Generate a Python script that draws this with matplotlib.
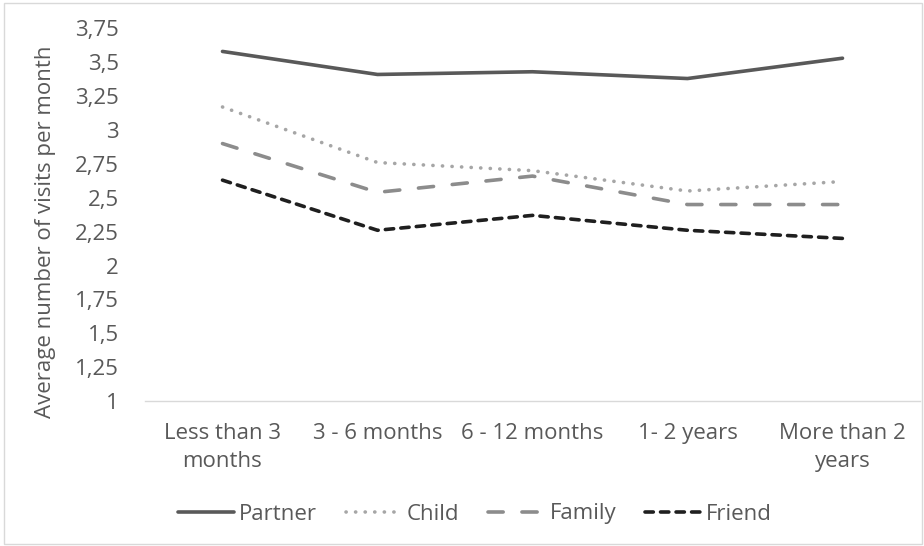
import matplotlib
matplotlib.use("Agg")
import matplotlib.pyplot as plt
from matplotlib.patches import Rectangle

# %%
# Data
categories = ["Less than 3\nmonths", "3 - 6 months", "6 - 12 months", "1- 2 years", "More than 2\nyears"]
partner = [3.58, 3.41, 3.43, 3.38, 3.53]
child = [3.17, 2.76, 2.70, 2.55, 2.62]
family = [2.90, 2.54, 2.66, 2.45, 2.45]
friend = [2.63, 2.26, 2.37, 2.26, 2.20]
yticks = [1, 1.25, 1.5, 1.75, 2, 2.25, 2.5, 2.75, 3, 3.25, 3.5, 3.75]

plt.rcParams["font.family"] = ["Open Sans", "DejaVu Sans"]
text_color = "#595959"
fs = 16

fig = plt.figure(figsize=(9.24, 5.46), dpi=100)
ax = fig.add_axes([145 / 924, 1 - 401 / 546, 775 / 924, (401 - 28.4) / 546])

x = range(len(categories))
lw = 2.6
ax.plot(x, partner, color="#595959", lw=lw, solid_capstyle="round", label="Partner")
ax.plot(x, child, color="#a6a6a6", lw=lw, linestyle=(0, (0.05, 2.6)),
        dash_capstyle="round", label="Child")
ax.plot(x, family, color="#8c8c8c", lw=lw, linestyle=(0, (4.2, 5.2)),
        dash_capstyle="round", label="Family")
ax.plot(x, friend, color="#1f1f1f", lw=lw, linestyle=(0, (2.3, 2.0)),
        dash_capstyle="round", label="Friend")

ax.set_xlim(-0.5, 4.5)
ax.set_ylim(1, 3.75)
ax.set_yticks(yticks)
ax.set_yticklabels([f"{t:g}".replace(".", ",") for t in yticks])
ax.set_xticks(list(x))
ax.set_xticklabels(categories, linespacing=1.45)
ax.tick_params(axis="both", length=0, labelsize=fs, colors=text_color)
ax.tick_params(axis="y", pad=19)
ax.tick_params(axis="x", pad=16)
ax.set_ylabel("Average number of visits per month", fontsize=fs, color=text_color)
ax.yaxis.set_label_coords(-0.115, 0.455)

for side in ["top", "right", "left"]:
    ax.spines[side].set_visible(False)
ax.spines["bottom"].set_color("#d9d9d9")
ax.spines["bottom"].set_linewidth(1)

leg = fig.legend(loc="center", bbox_to_anchor=(475 / 924, 1 - 514 / 546), ncol=4,
                 frameon=False, fontsize=fs, handlelength=2.5, handletextpad=0.25,
                 columnspacing=1.3)
for t in leg.get_texts():
    t.set_color(text_color)

# light border round the chart area
fig.patches.append(Rectangle((4 / 924, 2 / 546), 918 / 924, 541 / 546, transform=fig.transFigure,
                             fill=False, edgecolor="#d9d9d9", lw=1))

fig.savefig("out.png", dpi=100)
